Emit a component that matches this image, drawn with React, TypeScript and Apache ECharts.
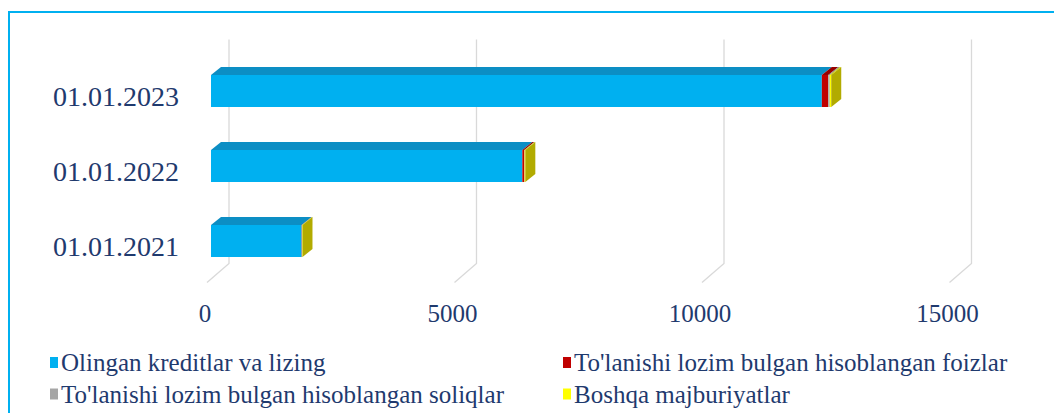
import React, { useEffect, useRef } from 'react';
import * as echarts from 'echarts';

const categories = ['01.01.2021', '01.01.2022', '01.01.2023'];
const seriesNames = [
  'Olingan kreditlar va lizing',
  "To'lanishi lozim bulgan hisoblangan foizlar",
  "To'lanishi lozim bulgan hisoblangan soliqlar",
  'Boshqa majburiyatlar',
];
const kreditlar = [1830, 6290, 12340];
const foizlar = [5, 40, 130];
const soliqlar = [3, 5, 30];
const boshqa = [10, 15, 30];
const xTicks = [0, 5000, 10000, 15000];

const frontColors = ['#00B0F0', '#C00000', '#A6A6A6', '#FFFF00'];
const topColors = ['#0C8EC4', '#960000', '#868686', '#CFCF00'];
const sideColor = '#B2AB00';
const textColor = '#1F3A6E';
const FONT = 'Liberation Serif';

const DX = 10;
const DY = -8;
const BACK_DX = 18;
const BACK_DY = -14;

export default function App() {
  const ref = useRef<HTMLDivElement>(null);
  useEffect(() => {
    document.body.style.margin = '0';
    const chart = echarts.init(ref.current!, null, { renderer: 'svg' });
    const allValues = [kreditlar, foizlar, soliqlar, boshqa];
    const cum = categories.map(() => 0);
    const barSeries = allValues.map((vals, si) => {
      const data = vals.map((v, ci) => {
        const s = cum[ci];
        cum[ci] += v;
        return [ci, s, s + v];
      });
      const isLast = si === allValues.length - 1;
      return {
        type: 'custom',
        name: seriesNames[si],
        itemStyle: { color: frontColors[si] },
        encode: { x: [1, 2], y: 0 },
        z: 3 + si,
        data,
        renderItem: (params: any, api: any) => {
          const ci = api.value(0);
          const s = api.value(1);
          const e = api.value(2);
          const p0 = api.coord([s, ci]);
          const p1 = api.coord([e, ci]);
          const h = api.size([0, 1])[1] * (32 / 75);
          const x0 = p0[0];
          const x1 = p1[0];
          const yT = p0[1] - h / 2;
          const yB = p0[1] + h / 2;
          const children: any[] = [
            {
              type: 'polygon',
              shape: { points: [[x0, yT], [x1, yT], [x1 + DX, yT + DY], [x0 + DX, yT + DY]] },
              style: { fill: topColors[si] },
            },
            {
              type: 'rect',
              shape: { x: x0, y: yT, width: x1 - x0, height: h },
              style: { fill: frontColors[si] },
            },
          ];
          if (isLast) {
            children.push({
              type: 'polygon',
              shape: { points: [[x1, yT], [x1 + DX, yT + DY], [x1 + DX, yB + DY], [x1, yB]] },
              style: { fill: sideColor },
            });
          }
          return { type: 'group', children };
        },
      };
    });

    const gridSeries = {
      type: 'custom',
      name: 'grid',
      silent: true,
      z: 1,
      encode: { x: 0, y: 1 },
      data: xTicks.map((t) => [t, 0]),
      renderItem: (params: any, api: any) => {
        const cs = params.coordSys;
        const cx = api.coord([api.value(0), 0])[0];
        const top = cs.y;
        const bottom = cs.y + cs.height;
        return {
          type: 'polyline',
          shape: {
            points: [
              [cx + BACK_DX, top + BACK_DY],
              [cx + BACK_DX, bottom + BACK_DY - 1],
              [cx - 4, bottom + 4],
            ],
          },
          style: { stroke: '#D9D9D9', lineWidth: 1.3, fill: 'none' },
        };
      },
    };

    const legendPos = [
      { x: 50, y: 362.5 },
      { x: 563, y: 362.5 },
      { x: 50, y: 394 },
      { x: 563, y: 394 },
    ];
    const legendGraphics: any[] = [];
    seriesNames.forEach((n, i) => {
      legendGraphics.push({
        type: 'rect',
        silent: true,
        shape: { x: legendPos[i].x, y: legendPos[i].y - 5.5, width: 8, height: 11 },
        style: { fill: frontColors[i] },
      });
      legendGraphics.push({
        type: 'text',
        silent: true,
        x: legendPos[i].x + 11,
        y: legendPos[i].y,
        style: {
          text: n,
          fill: textColor,
          font: '25px "Liberation Serif"',
          verticalAlign: 'middle',
          align: 'left',
        },
      });
    });

    chart.setOption({
      animation: false,
      textStyle: { fontFamily: FONT },
      grid: { left: 211, top: 53.5, width: 742.5, height: 225 },
      xAxis: {
        type: 'value',
        min: 0,
        max: 15000,
        interval: 5000,
        axisLine: { show: false },
        axisTick: { show: false },
        splitLine: { show: false },
        axisLabel: {
          color: textColor,
          fontFamily: FONT,
          fontSize: 25,
          margin: 22,
          padding: [0, 12, 0, 0],
          formatter: (v: number) => String(v),
        },
      },
      yAxis: {
        type: 'category',
        data: categories,
        axisLine: { show: false },
        axisTick: { show: false },
        splitLine: { show: false },
        axisLabel: {
          color: textColor,
          fontFamily: FONT,
          fontSize: 28,
          margin: 32,
          formatter: (v: string) => `{a|${v}}`,
          rich: {
            a: {
              color: textColor,
              fontFamily: FONT,
              fontSize: 28,
              padding: [11, 0, 0, 0],
            },
          },
        },
      },
      graphic: [
        {
          type: 'rect',
          shape: { x: 9, y: 12, width: 1200, height: 600 },
          style: { fill: 'none', stroke: '#00B0F0', lineWidth: 2 },
          silent: true,
        },
        ...legendGraphics,
      ],
      series: [gridSeries, ...barSeries],
    });
    return () => chart.dispose();
  }, []);
  return <div ref={ref} style={{ width: 1054, height: 413 }} />;
}
